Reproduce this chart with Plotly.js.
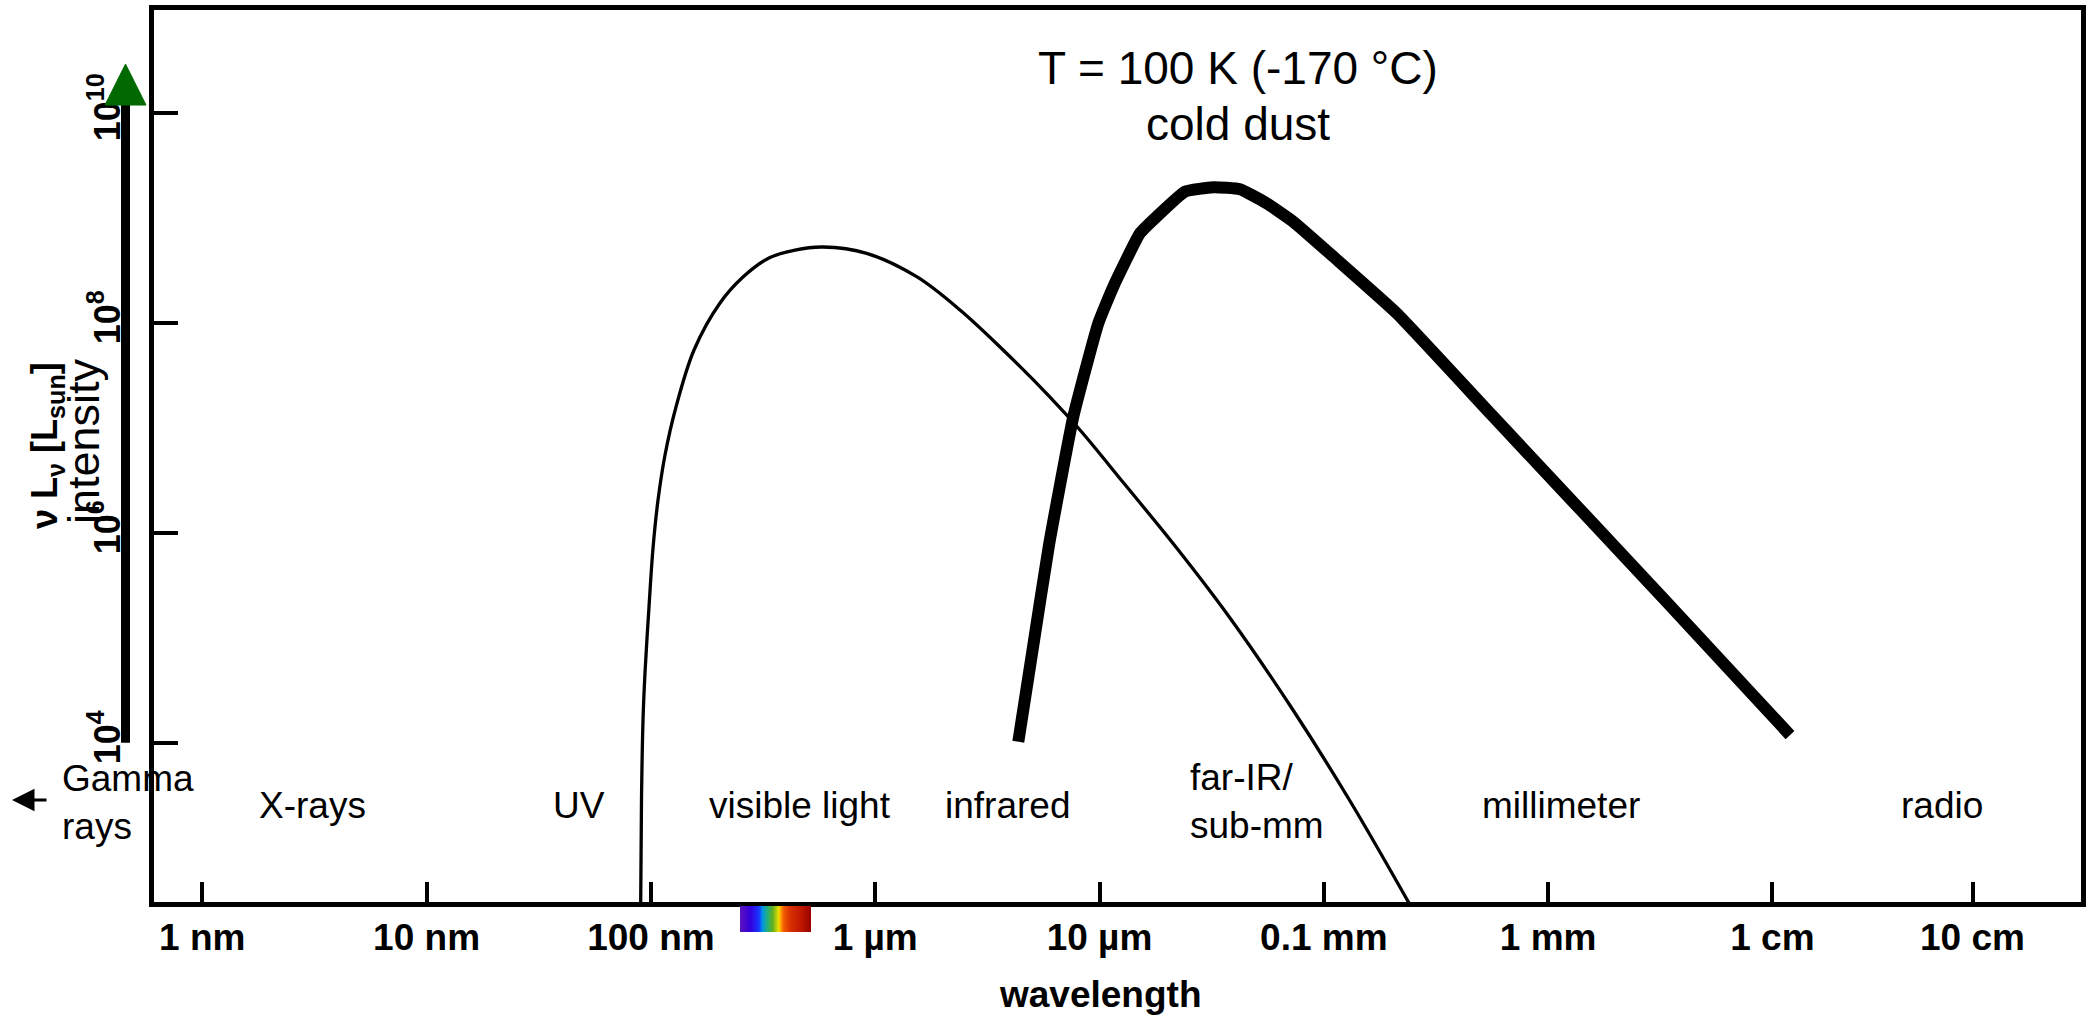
<!DOCTYPE html>
<html>
<head>
<meta charset="utf-8">
<script src="https://cdn.plot.ly/plotly-3.0.1.min.js"></script>
<style>
  html, body { margin: 0; padding: 0; background: #ffffff; }
  #chart { width: 2091px; height: 1018px; }
</style>
</head>
<body>
<div id="chart"></div>
<script>
// ---------------- DATA ----------------
// Thin curve: hot (star-like) spectrum. Wavelength in metres, intensity in L_sun.
const starWavelength = [9.005e-8, 9.080e-8, 9.222e-8, 9.412e-8, 9.806e-8, 1.022e-7, 1.076e-7, 1.156e-7,
  1.294e-7, 1.557e-7, 2.033e-7, 2.574e-7, 3.361e-7, 4.389e-7, 5.852e-7, 9.165e-7, 1.531e-6, 2.388e-6,
  3.601e-6, 6.016e-6, 8.187e-6, 1.282e-5, 2.209e-5, 3.818e-5, 7.290e-5, 1.309e-4, 2.398e-4];
const starIntensity = [297, 2844, 1.644e4, 4.613e4, 1.959e5, 7.145e5, 2.046e6, 5.495e6,
  1.574e7, 5.495e7, 1.542e8, 2.723e8, 4.130e8, 4.920e8, 5.260e8, 4.581e8, 2.742e8, 1.321e8,
  5.875e7, 1.959e7, 9.506e6, 2.972e6, 7.145e5, 1.540e5, 2.048e4, 2785, 297];

// Thick curve: T = 100 K cold dust.
const dustWavelength = [4.345e-6, 5.030e-6, 5.955e-6, 7.643e-6, 9.876e-6, 1.152e-5, 1.515e-5, 1.799e-5,
  2.406e-5, 3.216e-5, 4.230e-5, 5.566e-5, 7.31e-5, 1.102e-4, 2.113e-4, 5.697e-4, 3.378e-3, 1.198e-2];
const dustIntensity = [1.022e4, 7.64e4, 7.64e5, 1.274e7, 9.86e7, 2.203e8, 7.10e8, 1.023e9,
  1.770e9, 1.948e9, 1.865e9, 1.371e9, 9.16e8, 4.26e8, 1.230e8, 1.274e7, 2.188e5, 1.183e4];

// Axis ticks (the "10 cm" tick sits where the reference draws it)
const xTickValues = [1e-9, 1e-8, 1e-7, 1e-6, 1e-5, 1e-4, 1e-3, 1e-2, 0.078];
const xTickLabels = ['1 nm', '10 nm', '100 nm', '1 µm', '10 µm', '0.1 mm', '1 mm', '1 cm', '10 cm'];
const yTickValues = [1e4, 1e6, 1e8, 1e10];
const yTickLabels = ['10<sup>4</sup>', '10<sup>6</sup>', '10<sup>8</sup>', '10<sup>10</sup>'];

// Spectral band names
const bandLabels = ['Gamma<br>rays', 'X-rays', 'UV', 'visible light', 'infrared', 'far-IR/<br>sub-mm', 'millimeter', 'radio'];

// Visible-light colour strip
const spectrumStops = [0, 0.14, 0.26, 0.31, 0.38, 0.45, 0.54, 0.57, 0.61, 0.70, 0.85, 1];
const spectrumColors = ['#5a12bc', '#3400dc', '#1636ff', '#0096e6', '#24b07c', '#5cb020',
  '#f0e000', '#ff9a00', '#f05a00', '#d83000', '#c01800', '#960000'];

// ---------------- LAYOUT HELPERS ----------------
const W = 2091, H = 1018;
const FONT = 'Liberation Sans, Arial, Helvetica, sans-serif';
const px = v => v / W;
const py = v => 1 - v / H;

// label placement (pixel positions in the figure)
const bandPos = [
  {x: 60, y: 802, anchor: 'left'},
  {x: 312, y: 805, anchor: 'center'},
  {x: 579, y: 805, anchor: 'center'},
  {x: 800, y: 805, anchor: 'center'},
  {x: 1007, y: 805, anchor: 'center'},
  {x: 1188, y: 801, anchor: 'left'},
  {x: 1561, y: 805, anchor: 'center'},
  {x: 1942, y: 805, anchor: 'center'}
];

const traces = [
  {
    x: starWavelength, y: starIntensity, type: 'scatter', mode: 'lines',
    line: {color: '#000000', width: 3.3, shape: 'spline', smoothing: 1},
    hoverinfo: 'skip', xaxis: 'x', yaxis: 'y'
  },
  {
    x: dustWavelength, y: dustIntensity, type: 'scatter', mode: 'lines',
    line: {color: '#000000', width: 12, shape: 'spline', smoothing: 0.4},
    hoverinfo: 'skip', xaxis: 'x', yaxis: 'y'
  },
  {
    type: 'heatmap', z: [[0, 1], [0, 1]], x: [0, 1], y: [0, 1],
    colorscale: spectrumStops.map((s, i) => [s, spectrumColors[i]]),
    zsmooth: 'best', showscale: false, hoverinfo: 'skip',
    xaxis: 'x2', yaxis: 'y2'
  }
];

const annotations = bandLabels.map((t, i) => ({
  xref: 'paper', yref: 'paper', x: px(bandPos[i].x), y: py(bandPos[i].y),
  xanchor: bandPos[i].anchor, yanchor: 'middle', align: bandPos[i].anchor === 'left' ? 'left' : 'center',
  text: t, showarrow: false, font: {family: FONT, size: 37, color: '#000000'}
}));

annotations.push(
  {xref: 'paper', yref: 'paper', x: px(1238), y: py(68), xanchor: 'center', yanchor: 'middle',
   text: 'T = 100 K (-170 °C)', showarrow: false,
   font: {family: FONT, size: 46, color: '#000000'}},
  {xref: 'paper', yref: 'paper', x: px(1238), y: py(124), xanchor: 'center', yanchor: 'middle',
   text: 'cold dust', showarrow: false,
   font: {family: FONT, size: 46, color: '#000000'}},
  {xref: 'paper', yref: 'paper', x: px(1100), y: py(994), xanchor: 'center', yanchor: 'middle',
   text: '<b>wavelength</b>', showarrow: false,
   font: {family: FONT, size: 37, color: '#000000'}},
  {xref: 'paper', yref: 'paper', x: px(47), y: py(446), xanchor: 'center', yanchor: 'middle',
   textangle: -90, text: '<b>ν L<sub>ν</sub> [L<sub>sun</sub>]</b>', showarrow: false,
   font: {family: FONT, size: 36, color: '#000000'}},
  {xref: 'paper', yref: 'paper', x: px(84), y: py(441), xanchor: 'center', yanchor: 'middle',
   textangle: -90, text: 'intensity', showarrow: false,
   font: {family: FONT, size: 45, color: '#000000'}},
  {xref: 'paper', yref: 'paper', x: px(12), y: py(800), ax: 36, ay: 0,
   text: '', showarrow: true, arrowhead: 2, arrowsize: 1.5, arrowwidth: 3, arrowcolor: '#000000'}
);

const shapes = [
  // intensity axis arrow: bar + green head
  {type: 'line', xref: 'paper', yref: 'y', x0: px(125.5), x1: px(125.5), y0: 10000, y1: 12000000000,
   line: {color: '#000000', width: 9}},
  {type: 'path', xref: 'paper', yref: 'y',
   path: 'M ' + px(105) + ',11830000000 L ' + px(146) + ',11830000000 L ' + px(125.5) + ',29040000000 Z',
   fillcolor: '#006a00', line: {color: '#006a00', width: 1}}
];

const layout = {
  width: W, height: H,
  margin: {l: 0, r: 0, t: 0, b: 0, pad: 0},
  paper_bgcolor: '#ffffff', plot_bgcolor: '#ffffff',
  showlegend: false,
  font: {family: FONT, color: '#000000'},
  xaxis: {
    type: 'log', domain: [px(154), px(2081)], range: [-9.2153, -0.6242],
    showline: true, linewidth: 5, linecolor: '#000000', mirror: true,
    showgrid: false, zeroline: false,
    ticks: 'inside', ticklen: 20, tickwidth: 4, tickcolor: '#000000',
    tickmode: 'array', tickvals: xTickValues, ticktext: xTickLabels,
    tickfont: {family: FONT, size: 37, color: '#000000', weight: 'bold'},
    ticklabelstandoff: -1, fixedrange: true, anchor: 'y'
  },
  yaxis: {
    type: 'log', domain: [py(902), py(10)], range: [2.483, 10.978],
    showline: true, linewidth: 5, linecolor: '#000000', mirror: true,
    showgrid: false, zeroline: false,
    ticks: 'inside', ticklen: 24, tickwidth: 4, tickcolor: '#000000',
    tickmode: 'array', tickvals: yTickValues, ticktext: yTickLabels, tickangle: -90,
    tickfont: {family: FONT, size: 36, color: '#000000', weight: 'bold'},
    ticklabelstandoff: 15, fixedrange: true, anchor: 'x'
  },
  xaxis2: {domain: [px(740), px(811)], range: [0, 1], visible: false, anchor: 'y2', fixedrange: true},
  yaxis2: {domain: [py(932), py(906)], range: [0, 1], visible: false, anchor: 'x2', fixedrange: true},
  shapes: shapes,
  annotations: annotations
};

Plotly.newPlot('chart', traces, layout, {staticPlot: true, displayModeBar: false});
</script>
</body>
</html>
